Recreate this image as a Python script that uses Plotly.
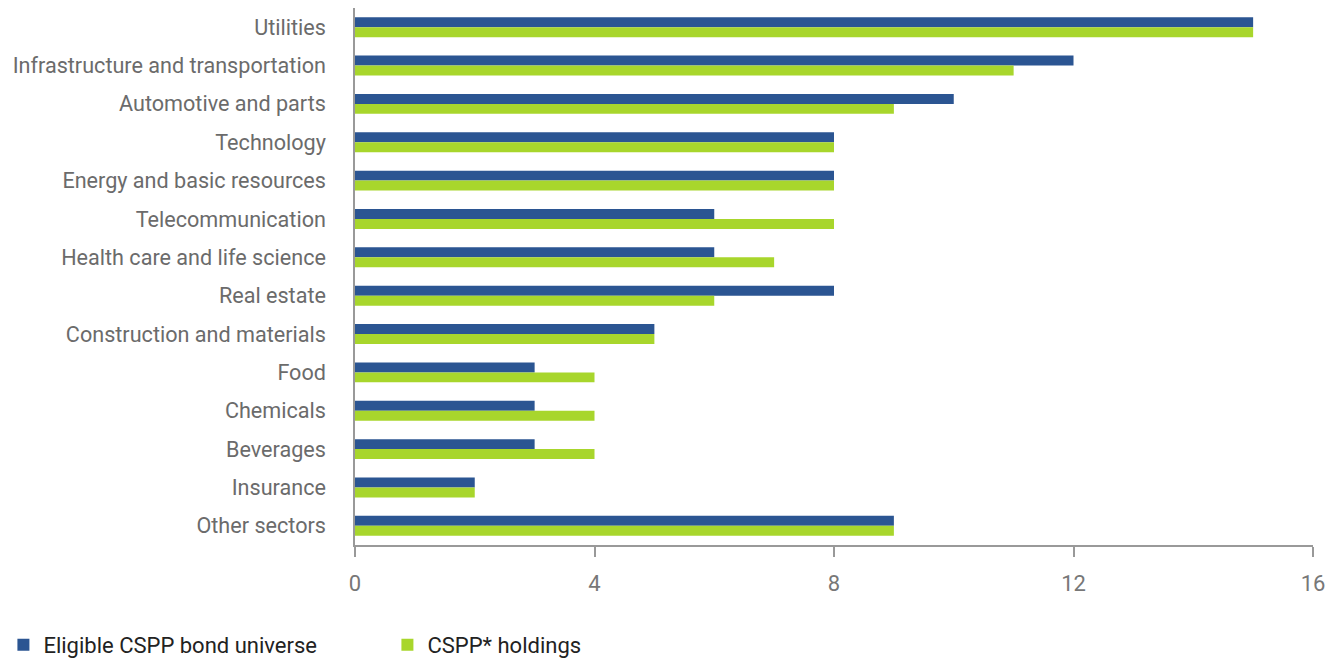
import plotly.graph_objects as go

categories = ["Utilities", "Infrastructure and transportation", "Automotive and parts",
              "Technology", "Energy and basic resources", "Telecommunication",
              "Health care and life science", "Real estate", "Construction and materials",
              "Food", "Chemicals", "Beverages", "Insurance", "Other sectors"]
eligible = [15, 12, 10, 8, 8, 6, 6, 8, 5, 3, 3, 3, 2, 9]
holdings = [15, 11, 9, 8, 8, 8, 7, 6, 5, 4, 4, 4, 2, 9]
x_ticks = [0, 4, 8, 12, 16]

fig = go.Figure()
fig.add_trace(go.Bar(y=categories, x=eligible, orientation="h",
                     name="Eligible CSPP bond universe", marker_color="#2B5592",
                     marker_line_width=0))
fig.add_trace(go.Bar(y=categories, x=holdings, orientation="h",
                     name="CSPP* holdings", marker_color="#A8D62C",
                     marker_line_width=0))

fig.update_layout(
    width=1338, height=658,
    margin=dict(l=355, r=25, t=8, b=113, autoexpand=False),
    barmode="group", bargap=0.48, bargroupgap=0,
    plot_bgcolor="white", paper_bgcolor="white",
    font=dict(family="Roboto", size=21.6, color="#6b6b6b"),
    showlegend=True,
    legend=dict(orientation="h", x=-0.367, xanchor="left", y=-0.186, yanchor="middle",
                font=dict(size=22, color="#222222"), entrywidth=339, entrywidthmode="pixels",
                itemsizing="constant", traceorder="normal"),
    xaxis=dict(range=[0, 16], tickvals=x_ticks, showgrid=False, zeroline=False,
               showline=True, linecolor="#999999", linewidth=1.5,
               ticks="outside", ticklen=10, tickcolor="#999999", tickwidth=1.5,
               ticklabelstandoff=8,
               tickfont=dict(size=22, color="#777777")),
    yaxis=dict(autorange="reversed", showgrid=False, zeroline=False,
               showline=True, linecolor="#999999", linewidth=1.5,
               ticks="", ticklabelstandoff=23,
               tickfont=dict(size=21.6, color="#6b6b6b")),
)
fig.write_html("out.html")
